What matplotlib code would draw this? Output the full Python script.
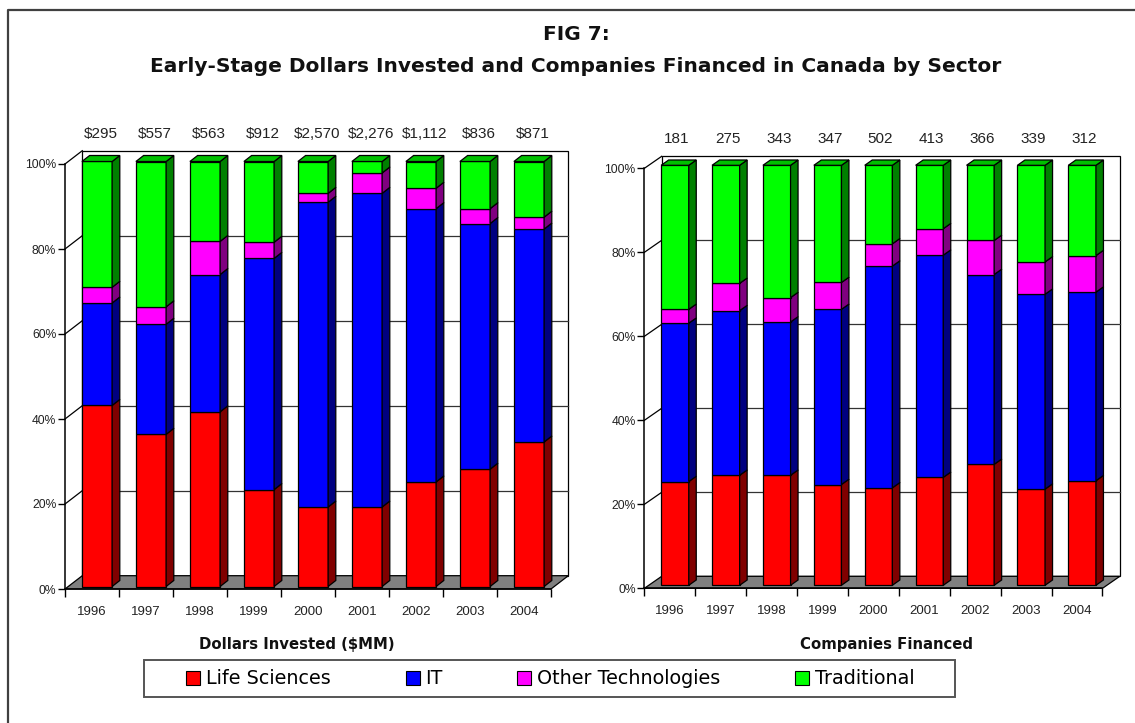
import matplotlib
matplotlib.use('Agg')
import matplotlib.pyplot as plt
from matplotlib.patches import Polygon, Rectangle, Patch
from matplotlib.lines import Line2D
from matplotlib import font_manager

# chart data (percent of yearly total, front to back of each stack)
years = ['1996', '1997', '1998', '1999', '2000', '2001', '2002', '2003', '2004']
sectors = ['Life Sciences', 'IT', 'Other Technologies', 'Traditional']

dollars_life = [42.6, 35.8, 41.1, 22.8, 18.7, 18.7, 24.6, 27.6, 34.0]
dollars_it = [24.1, 25.9, 32.3, 54.4, 71.7, 73.8, 64.3, 57.8, 50.1]
dollars_other = [3.7, 4.1, 7.8, 3.8, 2.1, 4.8, 4.8, 3.5, 2.8]
dollars_trad = [29.6, 34.2, 18.8, 19.0, 7.5, 2.7, 6.3, 11.1, 13.1]
dollars_total = ['$295', '$557', '$563', '$912', '$2,570', '$2,276', '$1,112', '$836', '$871']

companies_life = [24.7, 26.2, 26.2, 24.0, 23.2, 25.7, 28.8, 22.9, 24.9]
companies_it = [37.7, 39.2, 36.5, 41.7, 52.8, 52.9, 45.2, 46.4, 44.9]
companies_other = [3.3, 6.5, 5.8, 6.4, 5.3, 6.3, 8.1, 7.7, 8.7]
companies_trad = [34.3, 28.1, 31.5, 27.9, 18.7, 15.1, 17.9, 23.0, 21.5]
companies_total = ['181', '275', '343', '347', '502', '413', '366', '339', '312']

front_c = ['#FF0000', '#0000FF', '#FF00FF', '#00FF00']
side_c = ['#800000', '#000080', '#800080', '#008000']
top_c = ['#C00000', '#0000C0', '#C000C0', '#00C000']

W, H = 1135, 723
names = {f.name for f in font_manager.fontManager.ttflist}
narrow = 'Liberation Sans Narrow' if 'Liberation Sans Narrow' in names else 'Liberation Sans'
lab_size = 12.5 if narrow == 'Liberation Sans Narrow' else 11

fig = plt.figure(figsize=(W / 100, H / 100), dpi=100)


def px_axes(x0, y0, x1, y1):
    # axes box given in pixel coords (top-left origin)
    return fig.add_axes([x0 / W, (H - y1) / H, (x1 - x0) / W, (y1 - y0) / H])


def panel(ax, stacks, totals, g):
    n = len(years)
    bb = ax.get_position()
    xpp = bb.width * W / n
    ypp = bb.height * H / 100
    wdx, wdy = g['wall_dx'] / xpp, g['wall_dy'] / ypp
    bdx, bdy = g['bar_dx'] / xpp, g['bar_dy'] / ypp
    bw, shift, base = g['bar_w'] / xpp, g['shift'] / xpp, g['base'] / ypp
    kw = dict(clip_on=False, lw=0.9, edgecolor='black', joinstyle='miter')

    ax.set_xlim(0, n)
    ax.set_ylim(0, 100)
    # back wall, side wall grid, floor
    ax.add_patch(Rectangle((wdx, wdy), n, 100, facecolor='white', zorder=0.5, **kw))
    for v in range(20, 101, 20):
        ax.plot([0, wdx], [v, v + wdy], color='black', lw=0.9, clip_on=False, zorder=0.6)
        if v < 100:
            ax.plot([wdx, wdx + n], [v + wdy, v + wdy], color='#333333', lw=0.9,
                    clip_on=False, zorder=0.6)
    ax.add_patch(Polygon([(0, 0), (n, 0), (n + wdx, wdy), (wdx, wdy)],
                         facecolor='#808080', zorder=0.7, **kw))

    for i in range(n):
        x0 = i + 0.5 - bw / 2 + shift
        x1 = x0 + bw
        b = base
        for k, vals in enumerate(stacks):
            h = vals[i]
            ax.bar(x0, h, width=bw, bottom=b, align='edge', color=front_c[k],
                   zorder=2, **kw)
            ax.add_patch(Polygon([(x1, b), (x1 + bdx, b + bdy), (x1 + bdx, b + h + bdy),
                                  (x1, b + h)], facecolor=side_c[k], zorder=2, **kw))
            b += h
        ax.add_patch(Polygon([(x0, b), (x1, b), (x1 + bdx, b + bdy), (x0 + bdx, b + bdy)],
                             facecolor=top_c[len(stacks) - 1], zorder=2, **kw))
        ax.text(i + 0.5 + shift + g['lab_dx'] / xpp, 100 + g['lab_y'] / ypp, totals[i],
                ha='center', va='center', fontsize=lab_size, family=narrow,
                color='#222222', clip_on=False)

    for s in ['top', 'right']:
        ax.spines[s].set_visible(False)
    for s in ['left', 'bottom']:
        ax.spines[s].set_linewidth(1.1)
        ax.spines[s].set_zorder(3)
    ax.set_yticks(range(0, 101, 20))
    ax.set_yticklabels([f'{v}%' for v in range(0, 101, 20)])
    ax.set_xticks(range(n + 1))
    ax.set_xticklabels([])
    ax.set_xticks([i + 0.5 for i in range(n)], minor=True)
    ax.set_xticklabels(years, minor=True)
    ax.tick_params(axis='y', length=5, width=1, pad=1.3, labelsize=8.7)
    ax.tick_params(axis='x', which='major', length=5.5, width=1)
    ax.tick_params(axis='x', which='minor', length=0, pad=12, labelsize=9.5)
    for t in ax.get_xticklabels(minor=True) + ax.get_yticklabels():
        t.set_family('Liberation Sans')
        t.set_color('#222222')


axL = px_axes(65, 164, 551, 589)
panel(axL, [dollars_life, dollars_it, dollars_other, dollars_trad], dollars_total,
      dict(wall_dx=17.3, wall_dy=13.3, bar_dx=7.7, bar_dy=6, bar_w=30.2, shift=5,
           base=2.5, lab_dx=4, lab_y=30))
axR = px_axes(644.4, 168.3, 1102.5, 588.3)
panel(axR, [companies_life, companies_it, companies_other, companies_trad], companies_total,
      dict(wall_dx=17.3, wall_dy=12, bar_dx=7.5, bar_dy=5.3, bar_w=27.6, shift=5.1,
           base=3, lab_dx=2, lab_y=29.6))

bold = dict(family='DejaVu Sans', weight='bold', color='#111111', ha='center', va='center')
fig.text(576 / W, 1 - 34 / H, 'FIG 7:', fontsize=14.5, **bold)
fig.text(576 / W, 1 - 67 / H,
         'Early-Stage Dollars Invested and Companies Financed in Canada by Sector',
         fontsize=14.5, **bold)
fig.text(297 / W, 1 - 644 / H, 'Dollars Invested ($MM)', fontsize=10.7, **bold)
fig.text(887 / W, 1 - 644 / H, 'Companies Financed', fontsize=10.7, **bold)

# outer frame (left and top edges)
fig.add_artist(Line2D([7.5 / W, 7.5 / W, 1], [1 - 722 / H, 1 - 10 / H, 1 - 10 / H],
                      color='#404040', lw=1.6))

fig.add_artist(Rectangle((144.3 / W, 1 - 696.7 / H), (955 - 144.3) / W, 36.7 / H,
                         transform=fig.transFigure, facecolor='white',
                         edgecolor='#555555', lw=1.4))
handles = [Patch(facecolor=c, edgecolor='black', lw=0.8) for c in front_c]
fig.legend(handles, sectors, loc='center', bbox_to_anchor=(550.4 / W, 1 - 679 / H),
           ncol=4, frameon=False, prop=dict(family='DejaVu Sans', size=13.8),
           handlelength=0.73, handleheight=0.73, handletextpad=0.3,
           columnspacing=3.9, borderpad=0)

fig.savefig('out.png', dpi=100)
